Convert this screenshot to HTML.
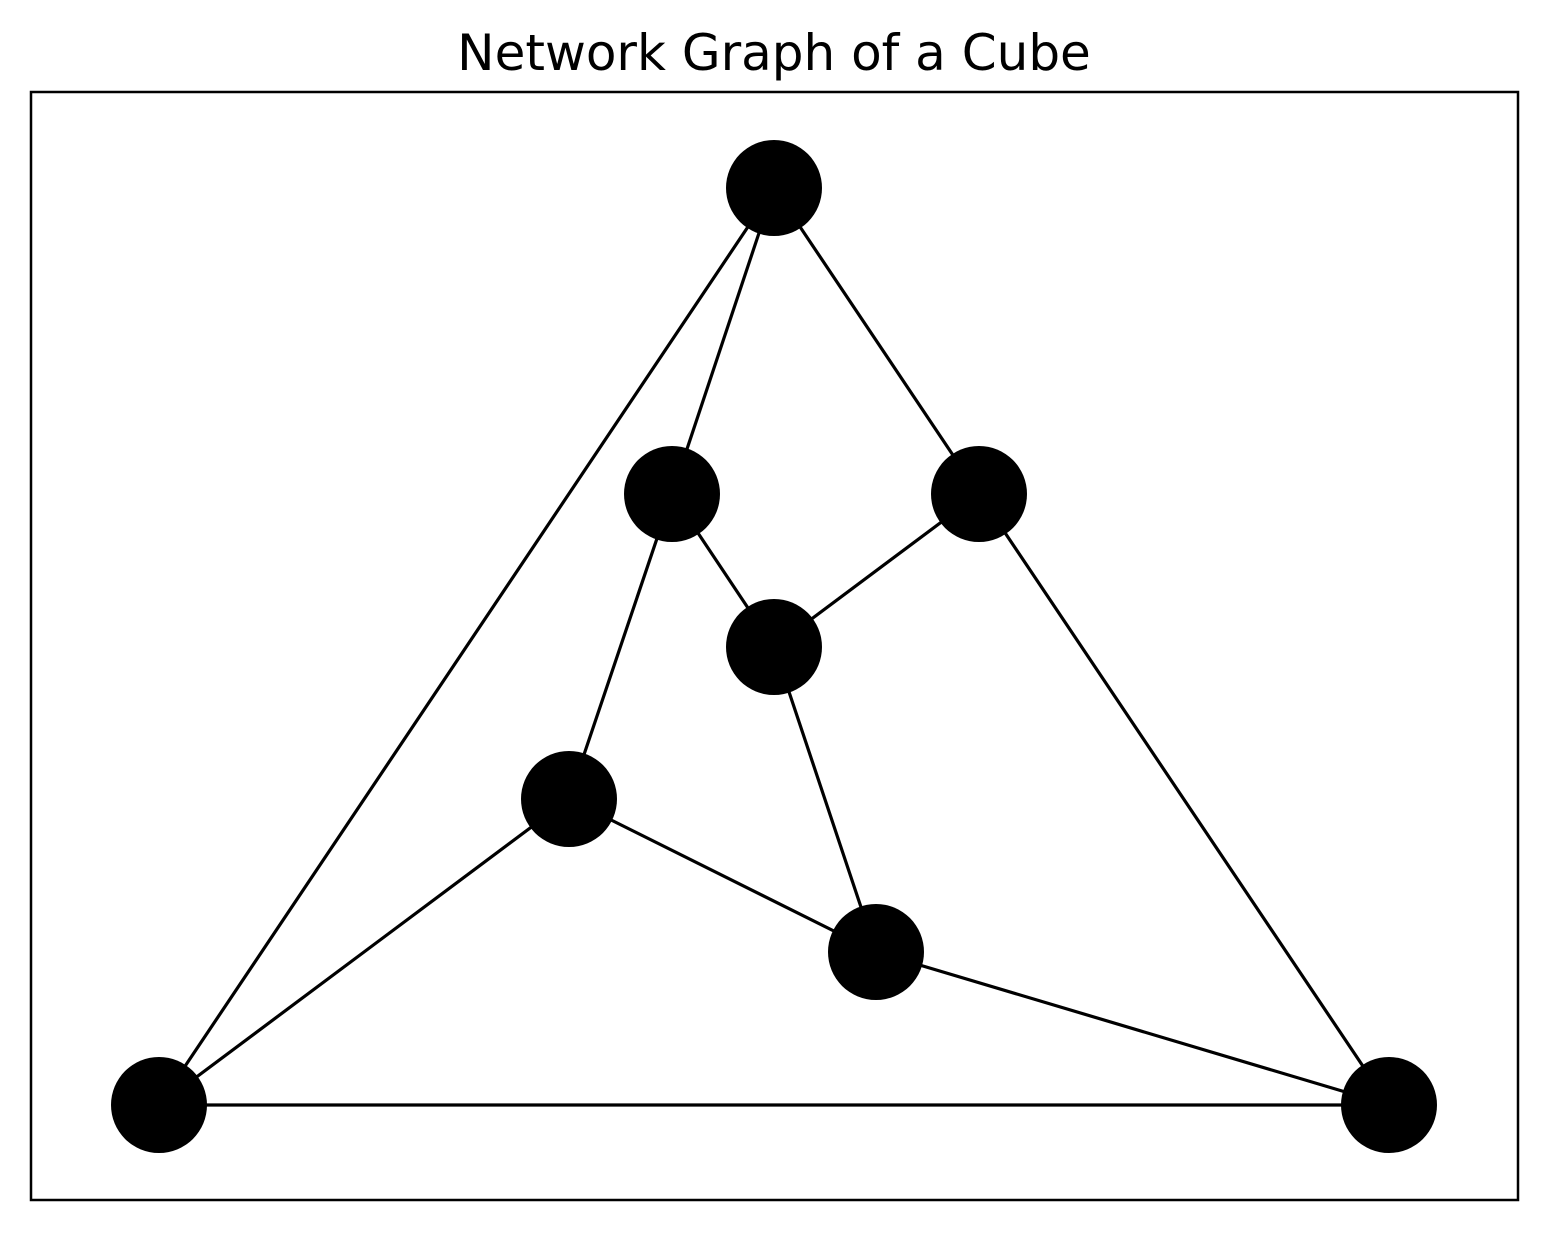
<!DOCTYPE html>
<html><head><meta charset="utf-8"><style>
html,body{margin:0;padding:0;background:#fff;}
</style></head><body>
<svg width="1548" height="1231" viewBox="0 0 1548 1231" xmlns="http://www.w3.org/2000/svg">
<rect width="1548" height="1231" fill="#fff"/>
<text x="774" y="70" text-anchor="middle" font-family="DejaVu Sans, Liberation Sans, sans-serif" font-size="50" fill="#000">Network Graph of a Cube</text>
<rect x="31" y="92" width="1487" height="1108" fill="none" stroke="#000" stroke-width="2.5"/>
<g stroke="#000" stroke-width="3.2" fill="none">
<line x1="774" y1="188" x2="159" y2="1105"/>
<line x1="774" y1="188" x2="672" y2="494"/>
<line x1="774" y1="188" x2="979" y2="494"/>
<line x1="672" y1="494" x2="774" y2="647"/>
<line x1="672" y1="494" x2="569" y2="799"/>
<line x1="979" y1="494" x2="774" y2="647"/>
<line x1="979" y1="494" x2="1389" y2="1105"/>
<line x1="774" y1="647" x2="876" y2="952"/>
<line x1="569" y1="799" x2="159" y2="1105"/>
<line x1="569" y1="799" x2="876" y2="952"/>
<line x1="876" y1="952" x2="1389" y2="1105"/>
<line x1="159" y1="1105" x2="1389" y2="1105"/>
</g>
<g fill="#000">
<circle cx="774" cy="188" r="48"/>
<circle cx="672" cy="494" r="48"/>
<circle cx="979" cy="494" r="48"/>
<circle cx="774" cy="647" r="48"/>
<circle cx="569" cy="799" r="48"/>
<circle cx="876" cy="952" r="48"/>
<circle cx="159" cy="1105" r="48"/>
<circle cx="1389" cy="1105" r="48"/>
</g>
</svg>
</body></html>
